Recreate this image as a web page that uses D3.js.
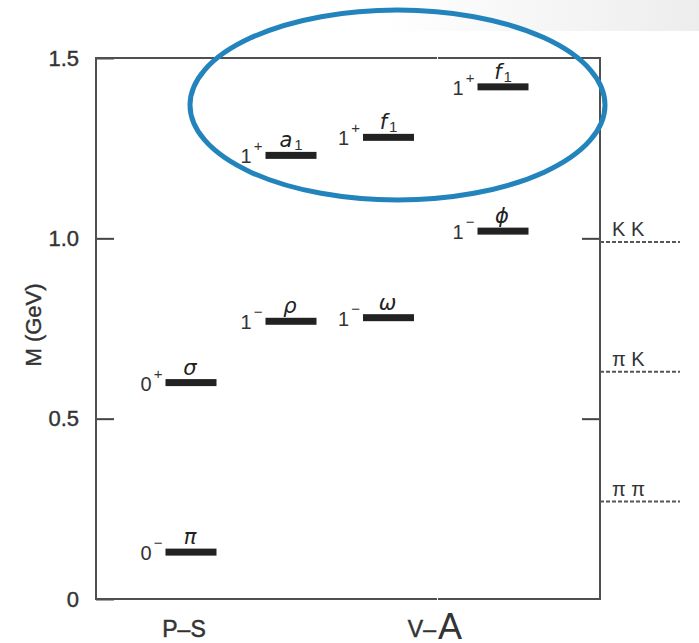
<!DOCTYPE html>
<html>
<head>
<meta charset="utf-8">
<script src="https://cdn.jsdelivr.net/npm/d3@7"></script>
<style>
  body { margin: 0; background: #fff; }
  svg { display: block; }
  text { font-family: "Liberation Sans", Arial, sans-serif; fill: #333; }
  .greek { font-family: "DejaVu Sans", "Liberation Sans", sans-serif; font-style: italic; fill: #222; }
</style>
</head>
<body>
<svg id="chart" width="699" height="643"></svg>
<script>
// meson levels
const names = ["π", "σ", "ρ", "a", "ω", "f", "ϕ", "f"];
const subs = ["", "", "", "1", "", "1", "", "1"];
const spins = ["0", "0", "1", "1", "1", "1", "1", "1"];
const parities = ["−", "+", "−", "+", "−", "+", "−", "+"];
const masses = [0.13, 0.60, 0.77, 1.23, 0.78, 1.28, 1.02, 1.42];
const columns = ["ps", "ps", "ud1", "ud1", "ud0", "ud0", "ss", "ss"];

// thresholds on the right
const thrLabels = ["π π", "π K", "K K"];
const thrValues = [0.27, 0.63, 0.99];

const yTicks = [0, 0.5, 1.0, 1.5];
const xCats = ["P–S", "V–A"];

const width = 699, height = 643;
const margin = { top: 58, bottom: 44, left: 96, right: 99 };
const innerWidth = width - margin.left - margin.right;
const innerHeight = height - margin.top - margin.bottom;

const svg = d3.select("#chart");

// slide background bits
const defs = svg.append("defs");
const grad = defs.append("linearGradient").attr("id", "bg").attr("x1", 0).attr("x2", 1);
grad.append("stop").attr("offset", 0).attr("stop-color", "#ffffff");
grad.append("stop").attr("offset", 1).attr("stop-color", "#ededed");
svg.append("rect").attr("x", 380).attr("y", 0).attr("width", 319).attr("height", 31).attr("fill", "url(#bg)");

const g = svg.append("g").attr("transform", `translate(${margin.left},${margin.top})`);

const yScale = d3.scaleLinear().domain([0, 1.5]).range([innerHeight, 0]);
const xScale = d3.scaleOrdinal().domain(["ps", "ud1", "ud0", "ss"]).range([95, 195, 292.5, 407]);
const catScale = d3.scaleOrdinal().domain(xCats).range([88, 341]);
const barW = 51;

// left axis
const yAxis = d3.axisLeft(yScale)
  .tickValues(yTicks)
  .tickFormat(d => d === 0 ? "0" : d3.format(".1f")(d))
  .tickSizeInner(-18)
  .tickSizeOuter(0)
  .tickPadding(17);
const yAxisG = g.append("g").call(yAxis);
yAxisG.select(".domain").remove();
yAxisG.selectAll("line").attr("stroke", "#444").attr("stroke-width", 2);
yAxisG.selectAll("text")
  .attr("font-size", 22).attr("fill", "#333").attr("font-family", null)
  .attr("stroke", "#333").attr("stroke-width", 0.4);

// right axis, ticks only
const rAxisG = g.append("g").attr("transform", `translate(${innerWidth},0)`)
  .call(d3.axisRight(yScale).tickValues([0.5, 1.0]).tickSizeInner(-18).tickSizeOuter(0).tickFormat(""));
rAxisG.select(".domain").remove();
rAxisG.selectAll("line").attr("stroke", "#444").attr("stroke-width", 2);

// frame
g.append("rect")
  .attr("width", innerWidth).attr("height", innerHeight)
  .attr("fill", "none").attr("stroke", "#505050").attr("stroke-width", 2);

g.append("text")
  .attr("transform", `translate(${33 - margin.left},${325 - margin.top}) rotate(-90)`)
  .attr("text-anchor", "middle").attr("dy", "0.35em")
  .attr("font-size", 22)
  .attr("stroke", "#333").attr("stroke-width", 0.4)
  .text("M (GeV)");

// thresholds
const thr = thrValues.map((v, i) => ({ v, label: thrLabels[i] }));
g.selectAll(".thr").data(thr).enter().append("line")
  .attr("x1", innerWidth).attr("x2", innerWidth + 80)
  .attr("y1", d => yScale(d.v)).attr("y2", d => yScale(d.v))
  .attr("stroke", "#555").attr("stroke-width", 2).attr("stroke-dasharray", "4,2");
g.selectAll(".thrLabel").data(thr).enter().append("text")
  .attr("x", innerWidth + 12).attr("y", d => yScale(d.v) - 6)
  .attr("font-size", 20)
  .text(d => d.label);

// levels
const levels = names.map((n, i) => ({
  name: n, sub: subs[i], spin: spins[i], par: parities[i], m: masses[i], col: columns[i]
}));

g.selectAll(".bar").data(levels).enter().append("rect")
  .attr("x", d => xScale(d.col) - barW / 2)
  .attr("y", d => yScale(d.m) - 3.5)
  .attr("width", barW).attr("height", 7)
  .attr("fill", "#222");

// J^P labels: parity as a separate small text, spin placed to its left
levels.forEach(d => {
  const right = xScale(d.col) - barW / 2 - 3;
  const y = yScale(d.m) + 8;
  const sup = g.append("text")
    .attr("x", right).attr("y", y - 12)
    .attr("text-anchor", "end").attr("font-size", 15)
    .text(d.par);
  const w = sup.node().getComputedTextLength();
  g.append("text")
    .attr("x", right - w - 2).attr("y", y)
    .attr("text-anchor", "end").attr("font-size", 20)
    .text(d.spin);
});

// particle names with optional subscript, centred over the bar
levels.forEach(d => {
  const cx = xScale(d.col);
  const y = yScale(d.m) - 8;
  const main = g.append("text").attr("class", "greek")
    .attr("y", y).attr("font-size", 21).text(d.name);
  const mw = main.node().getComputedTextLength() + 2;
  let sw = 0, sub = null;
  if (d.sub) {
    sub = g.append("text").attr("y", y + 3).attr("font-size", 15).attr("fill", "#222").text(d.sub);
    sw = sub.node().getComputedTextLength();
  }
  const x0 = cx - (mw + sw) / 2;
  main.attr("x", x0);
  if (sub) sub.attr("x", x0 + mw);
});

// category labels
g.append("text")
  .attr("x", catScale(xCats[0])).attr("y", innerHeight + 38)
  .attr("text-anchor", "middle").attr("font-size", 23)
  .attr("stroke", "#333").attr("stroke-width", 0.5)
  .text(xCats[0]);
const vaX = catScale(xCats[1]);
g.append("text")
  .attr("x", vaX - 1).attr("y", innerHeight + 38)
  .attr("text-anchor", "end").attr("font-size", 23)
  .attr("stroke", "#333").attr("stroke-width", 0.5)
  .text(xCats[1].slice(0, 2));
g.append("text")
  .attr("x", vaX + 1).attr("y", innerHeight + 40)
  .attr("font-size", 36).attr("fill", "#000")
  .text(xCats[1].slice(2));

// white seam of the pasted slide
svg.append("line").attr("x1", 437.5).attr("x2", 437.5).attr("y1", 31).attr("y2", height - 40)
  .attr("stroke", "#fff").attr("stroke-width", 1);

// highlight ellipse
svg.append("ellipse")
  .attr("cx", 397.5).attr("cy", 105).attr("rx", 207.5).attr("ry", 95)
  .attr("fill", "none").attr("stroke", "#2384bd").attr("stroke-width", 5);
</script>
</body>
</html>
